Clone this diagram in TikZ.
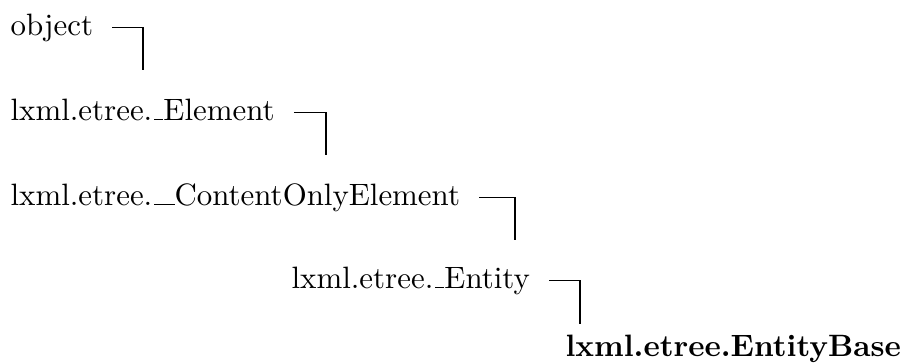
\documentclass[tikz,border=0pt]{standalone}
\usepackage{tikz}
\usetikzlibrary{positioning,calc}

% low line as the old \_ draws it
\newcommand{\lowbar}{\leavevmode\kern.06em\vbox{\hrule width.3em}}
\newcommand{\lowbarbar}{\leavevmode\kern.06em\vbox{\hrule width.66em}}

\tikzset{
  cls/.style={anchor=base west,inner sep=0pt,text height=7pt,text depth=2pt},
  link/.style={draw=black,line width=0.4pt}
}

\begin{document}
\begin{tikzpicture}[x=0.3236pt,y=-0.3236pt]
  \useasboundingbox (0,0) rectangle (903,363);
  % Nodes
  \node[cls] (obj) at (10,35) {object};
  \node[cls] (elem) at (10,120) {lxml.etree.\lowbar Element};
  \node[cls] (conly) at (10,205) {lxml.etree.\lowbarbar ContentOnlyElement};
  \node[cls] (ent) at (291,288) {lxml.etree.\lowbar Entity};
  \node[cls,font=\bfseries] (entbase) at (565,356) {lxml.etree.EntityBase};

  % ends of the connectors
  \coordinate (e1) at (143,70);
  \coordinate (e2) at (326,155);
  \coordinate (e3) at (515,240);
  \coordinate (e4) at (580,324);

  % Connectors
  \draw[link] ([xshift=6pt]obj.east) -| (e1);
  \draw[link] ([xshift=6pt]elem.east) -| (e2);
  \draw[link] ([xshift=6pt]conly.east) -| (e3);
  \draw[link] ([xshift=6pt]ent.east) -| (e4);
\end{tikzpicture}
\end{document}
